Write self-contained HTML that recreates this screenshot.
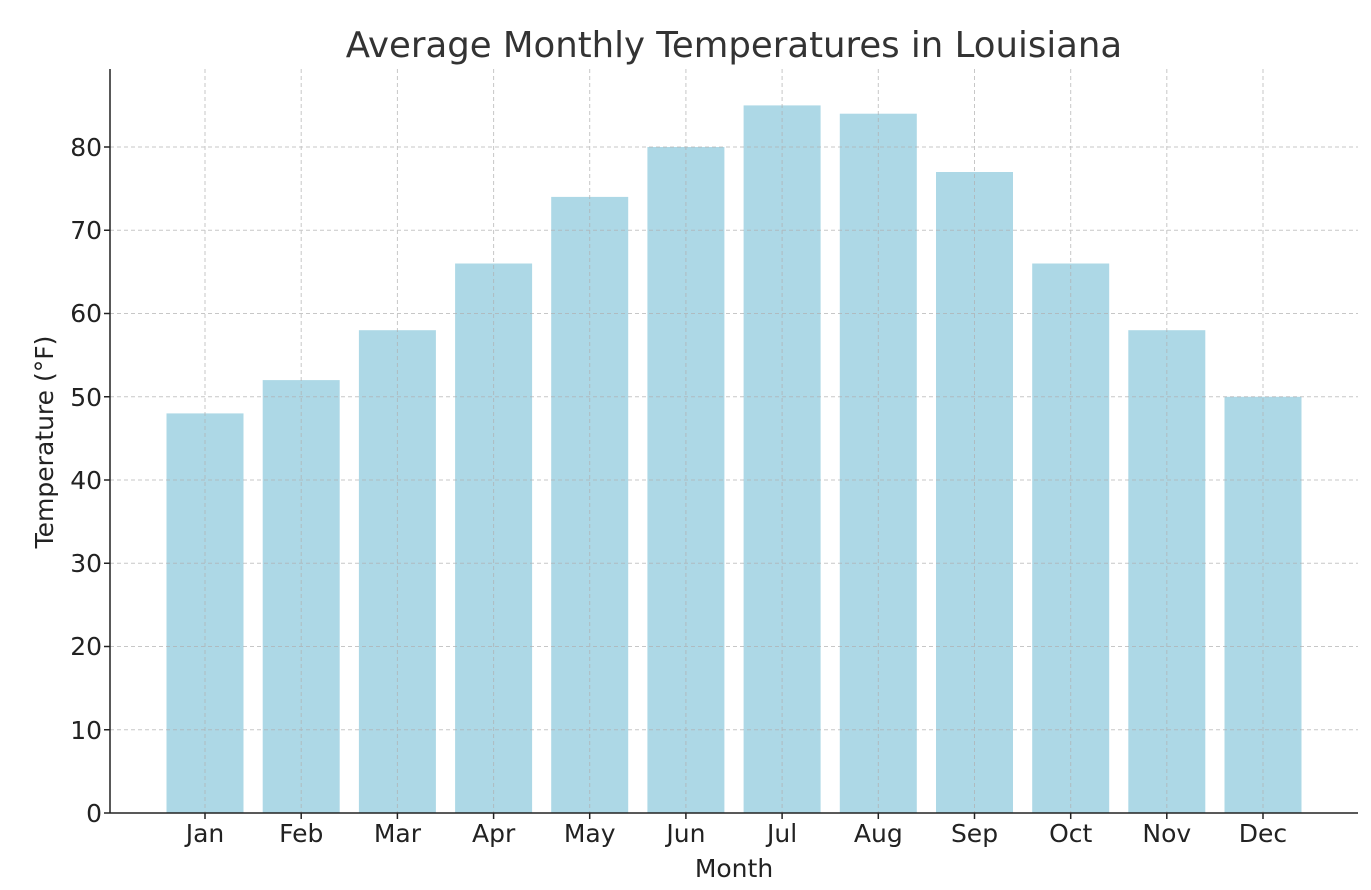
<!DOCTYPE html>
<html><head><meta charset="utf-8"><style>body{margin:0;background:#fff}svg{display:block}text{font-family:"DejaVu Sans","Liberation Sans",sans-serif;fill:#222}</style></head><body>
<svg width="1371" height="890" xmlns="http://www.w3.org/2000/svg">
<text x="734" y="57" font-size="35.5" text-anchor="middle" style="fill:#333">Average Monthly Temperatures in Louisiana</text>
<g fill="#add8e6">
<rect x="166.5" y="413.4" width="77" height="399.6"/>
<rect x="262.7" y="380.1" width="77" height="432.9"/>
<rect x="358.9" y="330.2" width="77" height="482.8"/>
<rect x="455.1" y="263.5" width="77" height="549.5"/>
<rect x="551.2" y="196.9" width="77" height="616.1"/>
<rect x="647.4" y="147" width="77" height="666"/>
<rect x="743.6" y="105.4" width="77" height="707.6"/>
<rect x="839.8" y="113.7" width="77" height="699.3"/>
<rect x="936" y="172" width="77" height="641"/>
<rect x="1032.2" y="263.5" width="77" height="549.5"/>
<rect x="1128.3" y="330.2" width="77" height="482.8"/>
<rect x="1224.5" y="396.8" width="77" height="416.2"/>
</g>
<g stroke="#b0b0b0" stroke-width="1" stroke-dasharray="4,3" opacity="0.7">
<line x1="110" x2="1358" y1="729.75" y2="729.75"/><line x1="110" x2="1358" y1="646.5" y2="646.5"/>
<line x1="110" x2="1358" y1="563.25" y2="563.25"/><line x1="110" x2="1358" y1="480" y2="480"/>
<line x1="110" x2="1358" y1="396.75" y2="396.75"/><line x1="110" x2="1358" y1="313.5" y2="313.5"/>
<line x1="110" x2="1358" y1="230.25" y2="230.25"/><line x1="110" x2="1358" y1="147" y2="147"/>
<line x1="205" x2="205" y1="69" y2="813"/><line x1="301.2" x2="301.2" y1="69" y2="813"/>
<line x1="397.4" x2="397.4" y1="69" y2="813"/><line x1="493.6" x2="493.6" y1="69" y2="813"/>
<line x1="589.7" x2="589.7" y1="69" y2="813"/><line x1="685.9" x2="685.9" y1="69" y2="813"/>
<line x1="782.1" x2="782.1" y1="69" y2="813"/><line x1="878.3" x2="878.3" y1="69" y2="813"/>
<line x1="974.5" x2="974.5" y1="69" y2="813"/><line x1="1070.7" x2="1070.7" y1="69" y2="813"/>
<line x1="1166.8" x2="1166.8" y1="69" y2="813"/><line x1="1263" x2="1263" y1="69" y2="813"/>
</g>
<g stroke="#222" stroke-width="1.5">
<line x1="110" y1="69" x2="110" y2="813.5"/><line x1="110" y1="813" x2="1358" y2="813"/>
<line x1="104" x2="110" y1="813" y2="813"/><line x1="104" x2="110" y1="729.75" y2="729.75"/><line x1="104" x2="110" y1="646.5" y2="646.5"/><line x1="104" x2="110" y1="563.25" y2="563.25"/><line x1="104" x2="110" y1="480" y2="480"/><line x1="104" x2="110" y1="396.75" y2="396.75"/><line x1="104" x2="110" y1="313.5" y2="313.5"/><line x1="104" x2="110" y1="230.25" y2="230.25"/><line x1="104" x2="110" y1="147" y2="147"/>
<line x1="205" x2="205" y1="813" y2="819"/><line x1="301.2" x2="301.2" y1="813" y2="819"/><line x1="397.4" x2="397.4" y1="813" y2="819"/><line x1="493.6" x2="493.6" y1="813" y2="819"/><line x1="589.7" x2="589.7" y1="813" y2="819"/><line x1="685.9" x2="685.9" y1="813" y2="819"/><line x1="782.1" x2="782.1" y1="813" y2="819"/><line x1="878.3" x2="878.3" y1="813" y2="819"/><line x1="974.5" x2="974.5" y1="813" y2="819"/><line x1="1070.7" x2="1070.7" y1="813" y2="819"/><line x1="1166.8" x2="1166.8" y1="813" y2="819"/><line x1="1263" x2="1263" y1="813" y2="819"/>
</g>
<g font-size="25" text-anchor="end">
<text x="102" y="822">0</text><text x="102" y="739">10</text><text x="102" y="655">20</text><text x="102" y="572">30</text><text x="102" y="489">40</text><text x="102" y="406">50</text><text x="102" y="322">60</text><text x="102" y="239">70</text><text x="102" y="156">80</text>
</g>
<g font-size="25" text-anchor="middle">
<text x="205" y="842">Jan</text><text x="301.2" y="842">Feb</text><text x="397.4" y="842">Mar</text><text x="493.6" y="842">Apr</text><text x="589.7" y="842">May</text><text x="685.9" y="842">Jun</text><text x="782.1" y="842">Jul</text><text x="878.3" y="842">Aug</text><text x="974.5" y="842">Sep</text><text x="1070.7" y="842">Oct</text><text x="1166.8" y="842">Nov</text><text x="1263" y="842">Dec</text>
<text x="734" y="877">Month</text>
<text x="0" y="0" transform="translate(53,442) rotate(-90)">Temperature (°F)</text>
</g>
</svg>
</body></html>
